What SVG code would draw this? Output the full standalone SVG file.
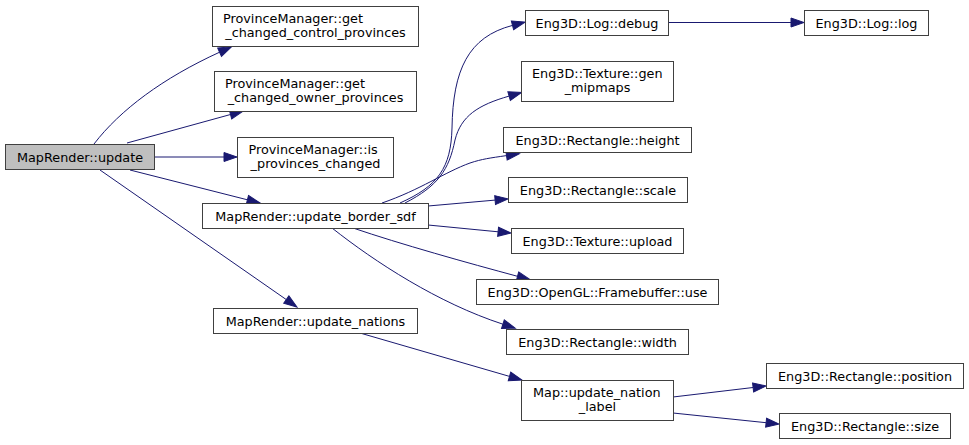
<svg xmlns="http://www.w3.org/2000/svg" width="969" height="445" viewBox="0 0 969 445">
<defs>
<marker id="ah" markerWidth="13" markerHeight="9" refX="0" refY="4.5" orient="auto" markerUnits="userSpaceOnUse" overflow="visible">
<path d="M0,0 L13,4.5 L0,9 z" fill="#191970" stroke="#191970" stroke-width="1"/>
</marker>
<style>
.n rect{fill:#ffffff;stroke:#404040;stroke-width:1}
.n.root rect{fill:#bfbfbf}
.n text{font-family:"DejaVu Sans","Liberation Sans",sans-serif;font-size:12.8px;fill:#000}
.c{text-anchor:middle}
.e path{fill:none;stroke:#191970;stroke-width:1;marker-end:url(#ah)}
</style>
</defs>
<rect width="969" height="445" fill="#ffffff"/>
<g id="edges" class="e">
<path d="M94,144 C120,110 163,78 219.6,52.2"/>
<path d="M127,143 L230.5,114.5"/>
<path d="M155,157 L224,157"/>
<path d="M130,170 L247.4,199.8"/>
<path d="M100,170 L286.3,299.6"/>
<path d="M400,203 C438,186 451,168 452,128 C453,70 468,37 512.5,25.4"/>
<path d="M405,203 C438,186 449,170 455,140 C461,116 478,105 509.1,96.1"/>
<path d="M382,203 C420,190 445,172 470,163 C482,159 490,158 506.5,155.6"/>
<path d="M428,206 L495.1,200.1"/>
<path d="M428,225 L498.1,231.8"/>
<path d="M353,228 C400,244 468,263 517.5,276.3"/>
<path d="M332,228 C375,262 438,303 502.9,324.2"/>
<path d="M360,333 L509.5,376.4"/>
<path d="M673,397 L753.1,387.5"/>
<path d="M673,413 L766.1,422.7"/>
<path d="M668,22.5 L791,22.5"/>
</g>
<g id="n-update" class="n root"><rect x="5.5" y="144.5" width="149" height="25"/><text class="c" x="80" y="161.5">MapRender::update</text></g>
<g id="n-control" class="n"><rect x="212.5" y="6.5" width="206" height="40"/><text x="223" y="22.5">ProvinceManager::get</text><text class="c" x="315.5" y="36.5">_changed_control_provinces</text></g>
<g id="n-owner" class="n"><rect x="214.5" y="71.5" width="202" height="40"/><text x="225" y="87.5">ProvinceManager::get</text><text class="c" x="315.5" y="101.5">_changed_owner_provinces</text></g>
<g id="n-ischanged" class="n"><rect x="237.5" y="137.5" width="156" height="40"/><text x="248.5" y="153.5">ProvinceManager::is</text><text class="c" x="315.5" y="167.5">_provinces_changed</text></g>
<g id="n-border" class="n"><rect x="202.5" y="203.5" width="226" height="25"/><text class="c" x="315.5" y="220.5">MapRender::update_border_sdf</text></g>
<g id="n-nations" class="n"><rect x="213.5" y="308.5" width="204" height="25"/><text class="c" x="315.5" y="325.5">MapRender::update_nations</text></g>
<g id="n-debug" class="n"><rect x="525.5" y="10.5" width="143" height="25"/><text class="c" x="597" y="27.5">Eng3D::Log::debug</text></g>
<g id="n-log" class="n"><rect x="804.5" y="10.5" width="124" height="25"/><text class="c" x="866.5" y="27.5">Eng3D::Log::log</text></g>
<g id="n-mipmaps" class="n"><rect x="521.5" y="61.5" width="152" height="40"/><text x="532" y="77.5">Eng3D::Texture::gen</text><text class="c" x="597.5" y="91.5">_mipmaps</text></g>
<g id="n-height" class="n"><rect x="503.5" y="127.5" width="188" height="25"/><text class="c" x="597.5" y="144.5">Eng3D::Rectangle::height</text></g>
<g id="n-scale" class="n"><rect x="508.5" y="177.5" width="179" height="25"/><text class="c" x="598" y="194.5">Eng3D::Rectangle::scale</text></g>
<g id="n-upload" class="n"><rect x="511.5" y="228.5" width="172" height="25"/><text class="c" x="597.5" y="245.5">Eng3D::Texture::upload</text></g>
<g id="n-fb" class="n"><rect x="476.5" y="279.5" width="242" height="25"/><text class="c" x="597.5" y="296.5">Eng3D::OpenGL::Framebuffer::use</text></g>
<g id="n-width" class="n"><rect x="506.5" y="329.5" width="182" height="25"/><text class="c" x="597.5" y="346.5">Eng3D::Rectangle::width</text></g>
<g id="n-label" class="n"><rect x="521.5" y="380.5" width="152" height="40"/><text x="533" y="396.5">Map::update_nation</text><text class="c" x="597.5" y="410.5">_label</text></g>
<g id="n-position" class="n"><rect x="766.5" y="363.5" width="197" height="25"/><text class="c" x="865" y="380.5">Eng3D::Rectangle::position</text></g>
<g id="n-size" class="n"><rect x="779.5" y="413.5" width="171" height="25"/><text class="c" x="865" y="430.5">Eng3D::Rectangle::size</text></g>
</svg>
